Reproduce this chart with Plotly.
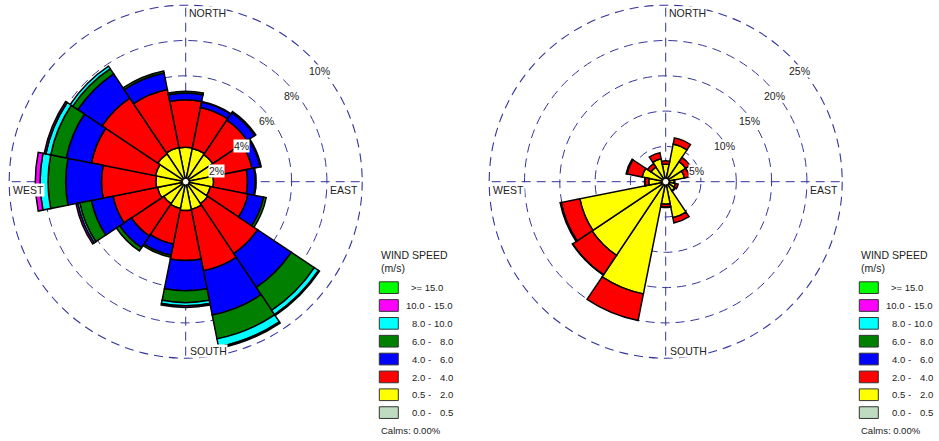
import plotly.graph_objects as go

# ---------------------------------------------------------------- data
directions = ["N", "NNE", "NE", "ENE", "E", "ESE", "SE", "SSE",
              "S", "SSW", "SW", "WSW", "W", "WNW", "NW", "NNW"]
bearings = [0, 22.5, 45, 67.5, 90, 112.5, 135, 157.5,
            180, 202.5, 225, 247.5, 270, 292.5, 315, 337.5]

bin_low = ["0.0", "0.5", "2.0", "4.0", "6.0", "8.0", "10.0"]
bin_high = ["0.5", "2.0", "4.0", "6.0", "8.0", "10.0", "15.0"]
top_bin_label = ">= 15.0"
bin_colors = ["#C0DCC0", "#FFFF00", "#FF0000", "#0000FF",
              "#007F00", "#00FFFF", "#FF00FF", "#00FF00"]

# left rose: frequency (%) per direction and speed class
left_00_05 = [0, 0, 0, 0, 0, 0, 0, 0, 0, 0, 0, 0, 0, 0, 0, 0]
left_05_2 = [1.95, 1.92, 1.85, 1.70, 1.58, 1.42, 1.50, 1.60,
             1.63, 1.55, 1.50, 1.63, 1.69, 1.75, 1.90, 1.97]
left_2_4 = [2.69, 2.36, 2.35, 2.13, 1.92, 2.18, 3.40, 3.55,
            2.84, 2.05, 2.20, 2.57, 3.08, 3.70, 3.80, 3.35]
left_4_6 = [0.38, 0.32, 0.50, 0.47, 0.44, 0.90, 2.30, 2.55,
            1.71, 0.65, 0.80, 1.25, 2.03, 1.45, 1.65, 0.96]
left_6_8 = [0.10, 0.03, 0.08, 0.06, 0.04, 0.15, 1.57, 1.38,
            0.67, 0.11, 0.22, 0.67, 1.00, 0.90, 0.35, 0.12]
left_8_10 = [0, 0, 0, 0, 0, 0, 0.28, 0.47,
             0.18, 0, 0, 0.12, 0.45, 0.28, 0.17, 0]
left_10_15 = [0, 0, 0, 0, 0, 0, 0.07, 0.08,
              0.09, 0, 0, 0.10, 0.27, 0.10, 0, 0]
left_15 = [0, 0, 0, 0, 0, 0, 0, 0, 0, 0, 0, 0, 0, 0, 0, 0]
left_calms = "0.00%"

# right rose
right_00_05 = [0, 0, 0, 0, 0, 0, 0, 0, 0, 0, 0, 0, 0, 0, 0, 0]
right_05_2 = [2.50, 5.43, 3.40, 2.70, 1.20, 1.40, 1.55, 5.20,
              3.20, 16.20, 12.55, 12.40, 2.40, 3.40, 2.50, 3.30]
right_2_4 = [0.45, 0.90, 0.75, 0.72, 0.10, 0.40, 0.10, 0.75,
             0.40, 3.85, 3.30, 2.70, 0.55, 2.20, 0.60, 0.90]
right_4_6 = [0, 0, 0, 0, 0, 0, 0, 0,
             0.05, 0, 0.05, 0.15, 0.05, 0.12, 0, 0]
right_6_8 = [0, 0, 0, 0, 0, 0, 0, 0, 0, 0, 0, 0, 0, 0, 0, 0]
right_8_10 = [0, 0, 0, 0, 0, 0, 0, 0, 0, 0, 0, 0, 0, 0, 0, 0]
right_10_15 = [0, 0, 0, 0, 0, 0, 0, 0, 0, 0, 0, 0, 0, 0, 0, 0]
right_15 = [0, 0, 0, 0, 0, 0, 0, 0, 0, 0, 0, 0, 0, 0, 0, 0]
right_calms = "0.00%"

left_ticks = [2, 4, 6, 8, 10]
right_ticks = [5, 10, 15, 20, 25]

# ---------------------------------------------------------------- geometry
W, H = 939, 441
R = 176.5
CY = 181.7
CX_LEFT, CX_RIGHT = 185.7, 665.7
GRID = "#34349A"
DASH = "9px,6px"
GRID_W = 1.4
FONT = "Liberation Sans, Arial, sans-serif"
TXT = "#222222"
COS45 = 0.70710678


def px(x):
    return x / W


def py(y):
    return 1 - y / H


fig = go.Figure()


def add_rose(subplot, series):
    for values, color in zip(series, bin_colors):
        if not any(values):
            continue
        fig.add_trace(go.Barpolar(
            r=[v if v else None for v in values],
            theta=bearings,
            width=22.5,
            marker=dict(color=color, line=dict(color="black", width=1.5)),
            subplot=subplot,
            showlegend=False,
            hoverinfo="skip",
        ))


add_rose("polar", [left_00_05, left_05_2, left_2_4, left_4_6,
                   left_6_8, left_8_10, left_10_15, left_15])
add_rose("polar2", [right_00_05, right_05_2, right_2_4, right_4_6,
                    right_6_8, right_8_10, right_10_15, right_15])


def polar_layout(cx, ticks):
    rmax = ticks[-1]
    return dict(
        domain=dict(x=[px(cx - R), px(cx + R)], y=[py(CY + R), py(CY - R)]),
        bgcolor="white",
        barmode="stack",
        radialaxis=dict(range=[0, rmax], tickvals=ticks[:-1],
                        showticklabels=False, ticks="", showline=False,
                        gridcolor=GRID, griddash=DASH, gridwidth=GRID_W),
        angularaxis=dict(rotation=90, direction="clockwise",
                         tickvals=[0, 90, 180, 270], showticklabels=False,
                         ticks="", showline=False,
                         gridcolor=GRID, griddash=DASH, gridwidth=GRID_W),
    )


annotations = []
shapes = []


def label(x, y, text, anchor="left", size=10.5, bg=True):
    annotations.append(dict(
        x=px(x), y=py(y), xref="paper", yref="paper", text=text,
        showarrow=False, xanchor=anchor, yanchor="middle",
        font=dict(family=FONT, size=size, color=TXT),
        bgcolor="white" if bg else None, borderpad=0,
    ))


def decorate(cx, ticks, calms):
    rmax = ticks[-1]
    # outermost dashed ring
    shapes.append(dict(type="circle", xref="paper", yref="paper",
                       x0=px(cx - R), x1=px(cx + R),
                       y0=py(CY + R), y1=py(CY - R),
                       line=dict(color=GRID, width=1.1, dash=DASH),
                       layer="above"))
    # ring labels along the north-east diagonal
    for t in ticks:
        r = R * t / rmax
        label(cx + r * COS45 - 3, CY - r * COS45 + 14.5, f"{t}%")
    # compass labels
    label(cx + 2.6, CY - R + 7.8, "NORTH", size=10.5)
    label(cx + 3.3, CY + R - 7.0, "SOUTH", size=10.5)
    label(cx - R + 3.0, CY + 8.3, "WEST", size=10.5)
    label(cx + R - 2.9, CY + 8.3, "EAST", anchor="right", size=10.5)
    # centre hole
    shapes.append(dict(type="circle", xref="paper", yref="paper",
                       xsizemode="pixel", ysizemode="pixel",
                       xanchor=px(cx), yanchor=py(CY),
                       x0=-3.3, x1=3.3, y0=-3.3, y1=3.3,
                       fillcolor="white", line=dict(color="black", width=1),
                       layer="above"))
    # legend
    lx = cx + 193.6
    label(lx + 0.7, 254.7, "WIND SPEED", size=10.5, bg=False)
    label(lx + 0.7, 268.0, "(m/s)", size=10.5, bg=False)
    rows = [(top_bin_label, None)] + [
        (bin_low[i], bin_high[i]) for i in range(len(bin_low) - 1, -1, -1)]
    colors = list(reversed(bin_colors))
    for k, ((lo, hi), color) in enumerate(zip(rows, colors)):
        top = 281.8 + k * 17.85
        shapes.append(dict(type="rect", xref="paper", yref="paper",
                           x0=px(lx), x1=px(lx + 19), y0=py(top + 11.7), y1=py(top),
                           fillcolor=color, line=dict(color="#333333", width=1)))
        yc = top + 6.0
        if hi is None:
            label(lx + 30.5, yc, lo, size=9.5, bg=False)
        else:
            label(lx + 46.5, yc, lo, anchor="right", size=9.5, bg=False)
            label(lx + 50.0, yc, "-", anchor="center", size=9.5, bg=False)
            label(lx + 74.5, yc, hi, anchor="right", size=9.5, bg=False)
    label(lx + 0.7, 430.0, f"Calms: {calms}", size=9.5, bg=False)


decorate(CX_LEFT, left_ticks, left_calms)
decorate(CX_RIGHT, right_ticks, right_calms)

fig.update_layout(
    width=W, height=H,
    margin=dict(l=0, r=0, t=0, b=0),
    paper_bgcolor="white",
    plot_bgcolor="white",
    polar=polar_layout(CX_LEFT, left_ticks),
    polar2=polar_layout(CX_RIGHT, right_ticks),
    annotations=annotations,
    shapes=shapes,
    showlegend=False,
)

fig.write_html("out.html")
